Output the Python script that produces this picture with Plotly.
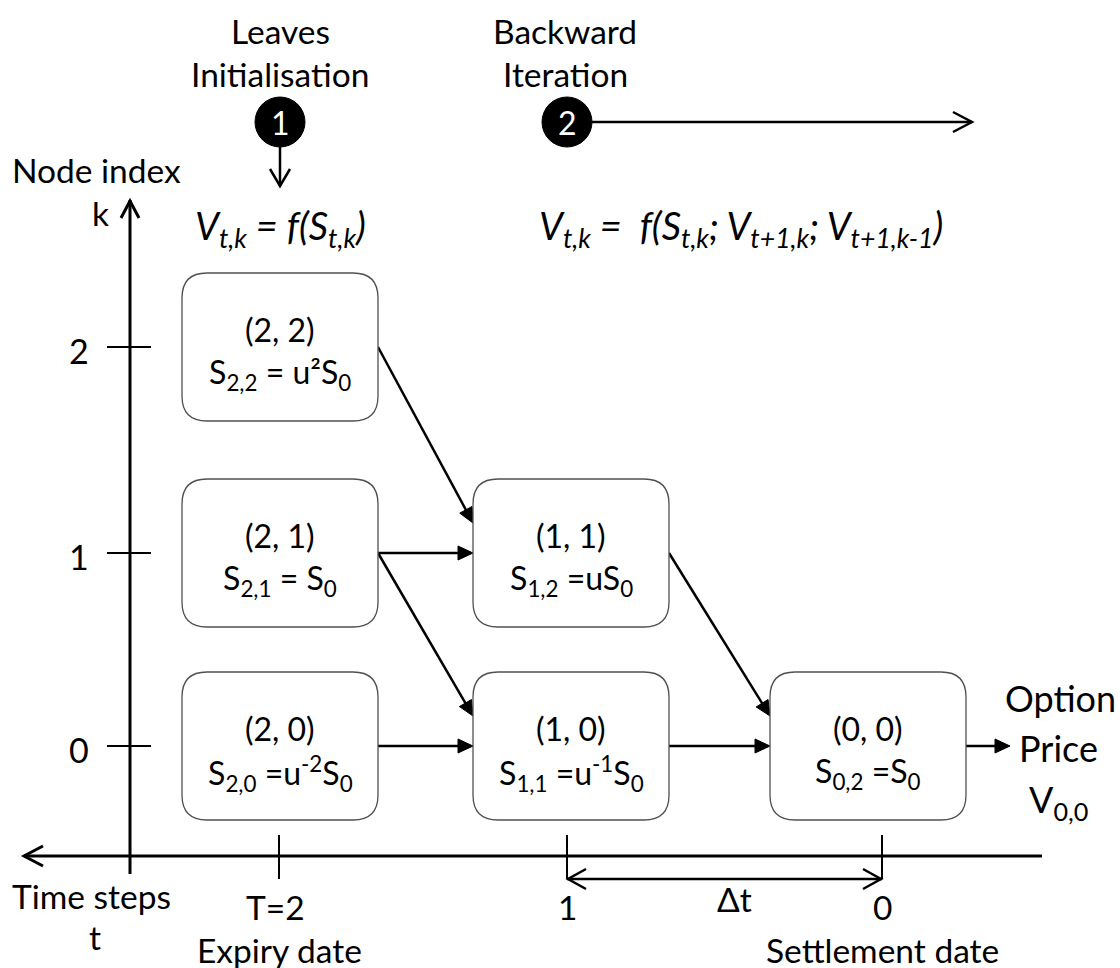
import plotly.graph_objects as go

# ---- data ----
node_t = [2, 2, 2, 1, 1, 0]
node_k = [2, 1, 0, 1, 0, 0]
node_titles = ["(2, 2)", "(2, 1)", "(2, 0)", "(1, 1)", "(1, 0)", "(0, 0)"]
node_values = [
    "S<sub>2,2</sub> = u²S<sub>0</sub>",
    "S<sub>2,1</sub> = S<sub>0</sub>",
    "S<sub>2,0</sub> =u<sup>-2</sup>S<sub>0</sub>",
    "S<sub>1,2</sub> =uS<sub>0</sub>",
    "S<sub>1,1</sub> =u<sup>-1</sup>S<sub>0</sub>",
    "S<sub>0,2</sub> =S<sub>0</sub>",
]
edges = [((2, 2), (1, 1)), ((2, 1), (1, 1)), ((2, 1), (1, 0)),
         ((2, 0), (1, 0)), ((1, 1), (0, 0)), ((1, 0), (0, 0))]
k_ticks = [0, 1, 2]
t_ticks = [2, 1, 0]
t_tick_labels = ["T=2", "1", "0"]
t_tick_notes = ["Expiry date", "", "Settlement date"]

# ---- layout geometry (pixels) ----
W, H = 1120, 968
col_x = {2: 280, 1: 571, 0: 868}
tick_x = {2: 279, 1: 567, 0: 882}
row_y = {2: 347, 1: 553, 0: 746}
BW, BH, R = 98, 74, 25
AX_X, AX_Y = 130, 856
FONT = "Lato, Carlito, 'Open Sans', sans-serif"
LW = 2.5
LABEL = 33.5
BOXF = 32

fig = go.Figure()
shapes = []
annotations = []


def line(x0, y0, x1, y1, w=LW, color="black"):
    shapes.append(dict(type="line", x0=x0, y0=y0, x1=x1, y1=y1,
                       line=dict(color=color, width=w), xref="x", yref="y"))


def chevron(xt, yt, dx, dy, length, half, w=LW):
    n = (dx * dx + dy * dy) ** 0.5
    ux, uy = dx / n, dy / n
    px, py = -uy, ux
    bx, by = xt - ux * length, yt - uy * length
    path = (f"M {bx + px * half},{by + py * half} L {xt},{yt} "
            f"L {bx - px * half},{by - py * half}")
    shapes.append(dict(type="path", path=path, line=dict(color="black", width=w),
                       xref="x", yref="y"))


def arrow(x0, y0, x1, y1, length=15, half=7):
    dx, dy = x1 - x0, y1 - y0
    n = (dx * dx + dy * dy) ** 0.5
    ux, uy = dx / n, dy / n
    px, py = -uy, ux
    bx, by = x1 - ux * length, y1 - uy * length
    line(x0, y0, bx + ux * 2, by + uy * 2)
    path = (f"M {x1},{y1} L {bx + px * half},{by + py * half} "
            f"L {bx - px * half},{by - py * half} Z")
    shapes.append(dict(type="path", path=path, fillcolor="black",
                       line=dict(color="black", width=1), xref="x", yref="y"))


def text(x, y, s, size=LABEL, xanchor="center", color="black"):
    annotations.append(dict(x=x, y=y, text=s, showarrow=False, xref="x", yref="y",
                            xanchor=xanchor, yanchor="middle",
                            font=dict(family=FONT, size=size, color=color)))


def rounded_box(cx, cy):
    x0, x1, y0, y1 = cx - BW, cx + BW, cy - BH, cy + BH
    p = (f"M {x0 + R},{y0} L {x1 - R},{y0} Q {x1},{y0} {x1},{y0 + R} "
         f"L {x1},{y1 - R} Q {x1},{y1} {x1 - R},{y1} L {x0 + R},{y1} "
         f"Q {x0},{y1} {x0},{y1 - R} L {x0},{y0 + R} Q {x0},{y0} {x0 + R},{y0} Z")
    shapes.append(dict(type="path", path=p, fillcolor="white",
                       line=dict(color="#505050", width=1.3), xref="x", yref="y"))


# axes
line(AX_X, 200, AX_X, 874, w=3)
chevron(AX_X, 201, 0, -1, 17, 9, w=3)
line(24, AX_Y, 1042, AX_Y, w=3)
chevron(24, AX_Y, -1, 0, 19, 10, w=3)

for k in k_ticks:
    line(107, row_y[k], 151, row_y[k], w=2)
    text(79, row_y[k] + 3, str(k), size=34)

for t, lab, note in zip(t_ticks, t_tick_labels, t_tick_notes):
    line(tick_x[t], 835, tick_x[t], 879, w=2)
    text(tick_x[t] - (4 if t == 2 else 0), 907, lab)
    if note:
        text(tick_x[t], 950, note)

# delta t double arrow
line(tick_x[1], 879, tick_x[0], 879, w=2.5)
chevron(tick_x[1] + 1, 879, -1, 0, 18, 10)
chevron(tick_x[0] - 1, 879, 1, 0, 18, 10)
text((tick_x[1] + tick_x[0]) / 2 + 10, 899, "Δt")

# axis titles
text(96, 170, "Node index")
text(100, 213, "k")
text(91, 896, "Time steps")
text(95, 937, "t")

# edges
for (ta, ka), (tb, kb) in edges:
    x0 = col_x[ta] + BW
    y0 = row_y[ka]
    x1 = col_x[tb] - BW
    y1 = row_y[kb] - (30 if ka != kb else 0)
    arrow(x0, y0, x1, y1)

# output arrow
arrow(col_x[0] + BW, row_y[0], 1010, row_y[0])
text(1060, 698, "Option", size=36)
text(1058, 748, "Price", size=36)
text(1058, 801, "V<sub>0,0</sub>", size=36)

# boxes
for t, k, tt, vv in zip(node_t, node_k, node_titles, node_values):
    rounded_box(col_x[t], row_y[k])
    text(col_x[t], row_y[k] - 18, tt, size=BOXF)
    text(col_x[t], row_y[k] + 27, vv, size=BOXF)

# step headers
text(280, 31, "Leaves")
text(280, 74, "Initialisation")
text(565, 31, "Backward")
text(565, 74, "Iteration")

shapes.append(dict(type="circle", x0=255, x1=305, y0=97, y1=147,
                   fillcolor="black", line=dict(color="black", width=1), xref="x", yref="y"))
shapes.append(dict(type="circle", x0=542, x1=592, y0=97, y1=147,
                   fillcolor="black", line=dict(color="black", width=1), xref="x", yref="y"))
text(280, 122, "1", size=32, color="white")
text(567, 122, "2", size=32, color="white")

line(280, 147, 280, 186)
chevron(280, 186, 0, 1, 17, 10)
line(592, 122, 972, 122)
chevron(972, 122, 1, 0, 19, 10)

# formulas
text(280, 228, "<i>V<sub>t,k</sub> = f(S<sub>t,k</sub>)</i>", size=38)
text(741, 228, "<i>V<sub>t,k</sub> =  f(S<sub>t,k</sub>; V<sub>t+1,k</sub>; V<sub>t+1,k-1</sub>)</i>", size=38)

fig.update_layout(
    width=W, height=H, autosize=False,
    margin=dict(l=0, r=0, t=0, b=0, pad=0),
    paper_bgcolor="white", plot_bgcolor="white",
    xaxis=dict(range=[0, W], visible=False, fixedrange=True),
    yaxis=dict(range=[H, 0], visible=False, fixedrange=True),
    shapes=shapes, annotations=annotations, showlegend=False,
)
fig.write_html("out.html", config={"displayModeBar": False},
               post_script="document.body.style.margin='0';")
